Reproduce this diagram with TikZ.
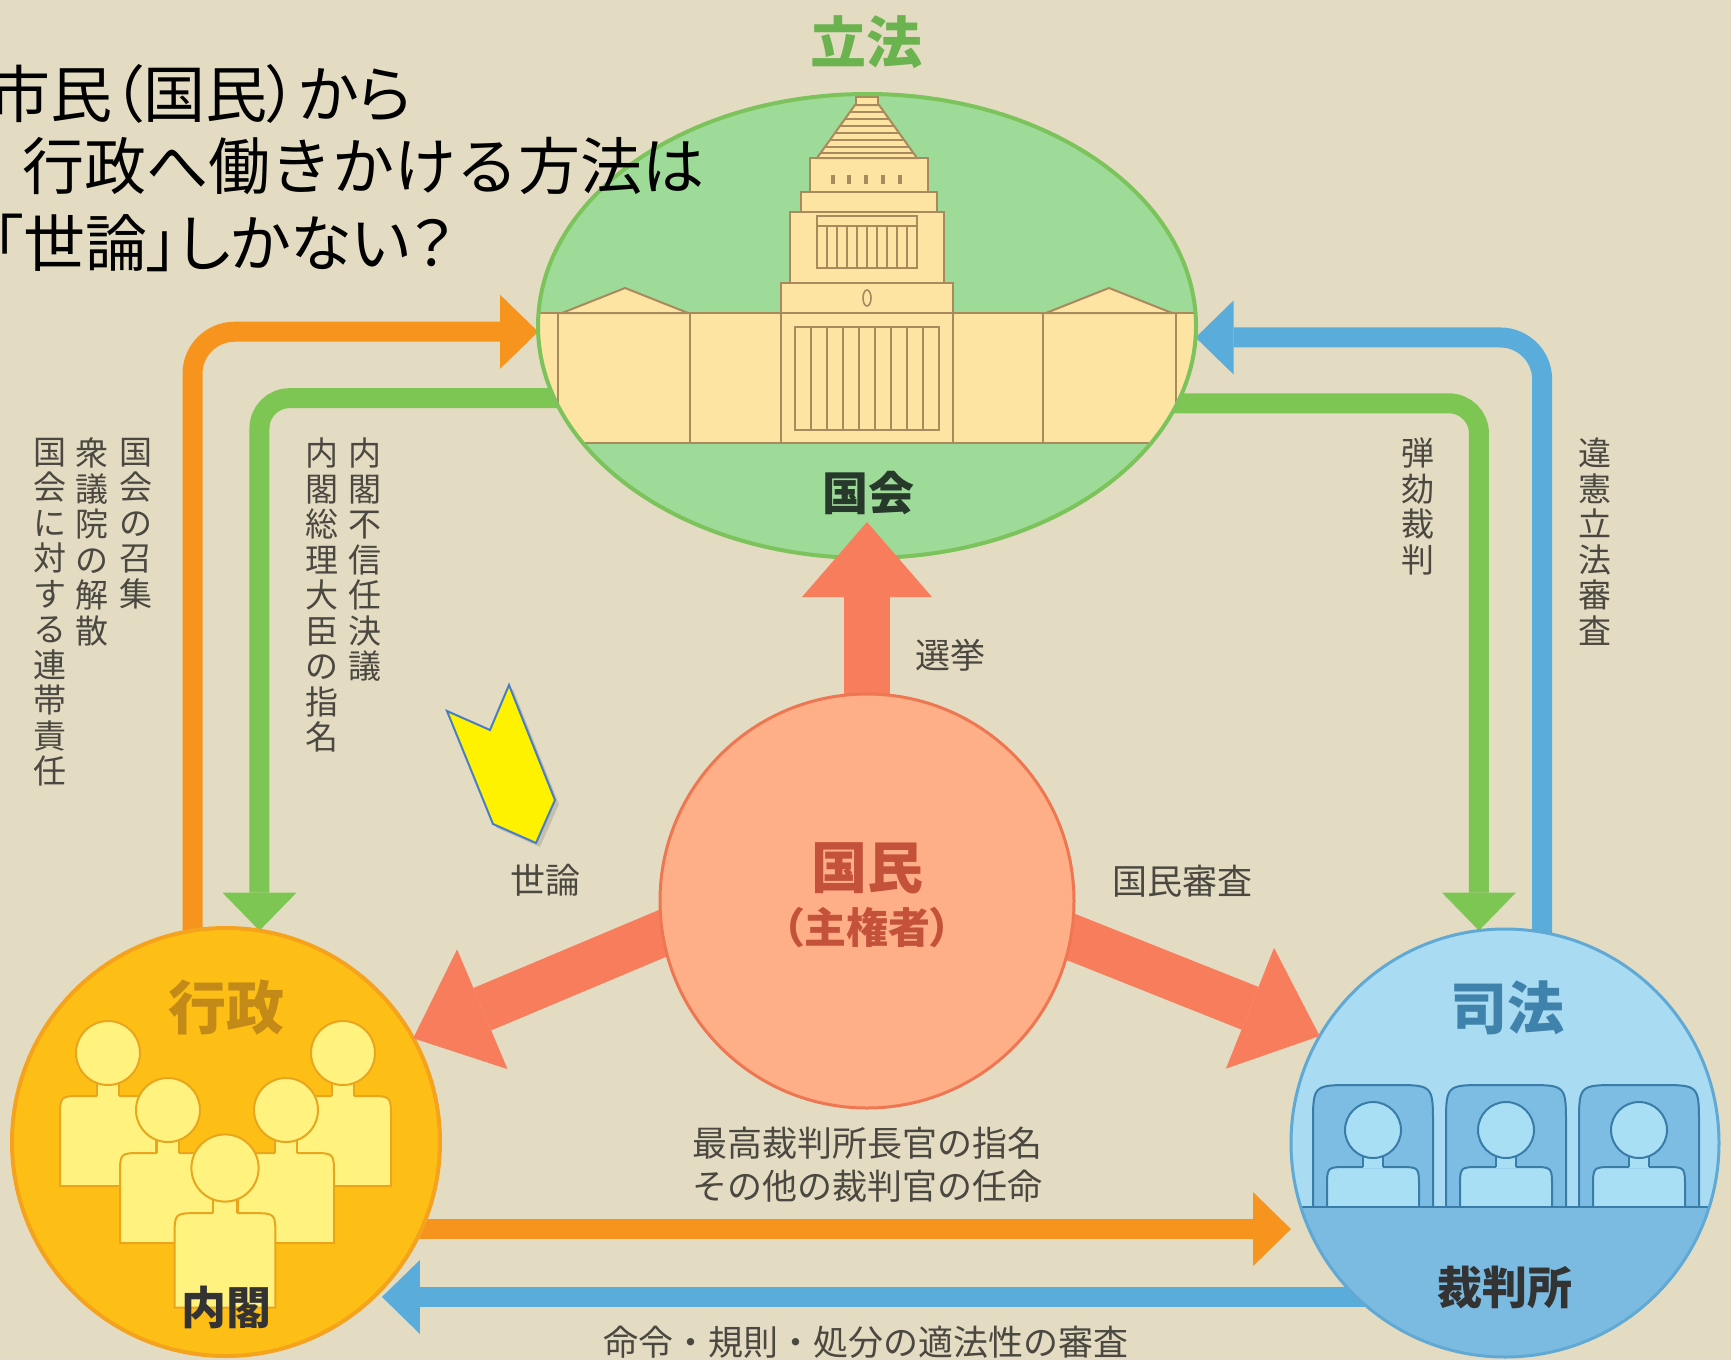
\documentclass[tikz,border=0pt]{standalone}
\usepackage{fontspec}
\usetikzlibrary{arrows.meta,shapes.geometric,calc,shadows}
\newfontfamily\jp{Noto Sans CJK JP}
\newfontfamily\jpp{Noto Sans CJK JP}[RawFeature=+palt]

\definecolor{paper}{HTML}{E3DCC3}
\definecolor{dietfill}{HTML}{9EDA98}
\definecolor{dietline}{HTML}{7CC35C}
\definecolor{hall}{HTML}{FDE4A3}
\definecolor{hallline}{HTML}{A88A5C}
\definecolor{legtext}{HTML}{6BB34E}
\definecolor{dietlabel}{HTML}{26392A}
\definecolor{orangec}{HTML}{F7941E}
\definecolor{greenc}{HTML}{7DC653}
\definecolor{bluec}{HTML}{5AACDB}
\definecolor{salmon}{HTML}{F77D5C}
\definecolor{peoplefill}{HTML}{FFAF87}
\definecolor{peopleline}{HTML}{EE7651}
\definecolor{peopletext}{HTML}{C4523A}
\definecolor{cabfill}{HTML}{FDBF16}
\definecolor{cabline}{HTML}{F5A31C}
\definecolor{cabtext}{HTML}{C48A18}
\definecolor{memfill}{HTML}{FFF27F}
\definecolor{memline}{HTML}{E9A51C}
\definecolor{courtfill}{HTML}{A9DBF3}
\definecolor{courtline}{HTML}{5FA9D4}
\definecolor{courttext}{HTML}{3F82AC}
\definecolor{seatfill}{HTML}{7DBDE4}
\definecolor{judgefill}{HTML}{A8DFF5}
\definecolor{judgeline}{HTML}{3A7CA8}
\definecolor{benchfill}{HTML}{7CBBE1}
\definecolor{labelc}{HTML}{4A4840}
\definecolor{calloutline}{HTML}{4A7EC2}

\tikzset{
  lbl/.style={font=\jp\fontsize{35}{43}\selectfont, text=labelc, align=center},
  vlbl/.style={font=\jp\fontsize{33}{35.5}\selectfont, text=labelc, align=center, anchor=north, text width=36pt},
  headline/.style={font=\jpp\fontsize{62}{62}\selectfont, text=black, anchor=west},
  thinarrow/.style={line width=20pt, rounded corners=42pt, shorten <=-14pt,
    -{Triangle[length=38pt,width=74pt,line width=0pt]}},
  fatarrow/.style={draw=salmon, line width=46pt, shorten <=-30pt,
    -{Triangle[length=75pt,width=130pt,line width=0pt]}},
  hallpart/.style={fill=hall, draw=hallline, line width=2pt},
  hallstroke/.style={draw=hallline, line width=1.6pt},
  member/.pic={
    \filldraw[fill=memfill, draw=memline, line width=2pt]
      (-48,133) -- (-48,65) .. controls (-48,43) .. (-26,43) -- (26,43)
      .. controls (48,43) .. (48,65) -- (48,133) -- cycle;
    \fill[memfill] (-11,24) rectangle (11,45);
    \draw[memline, line width=2pt] (-11,28) -- (-11,43) (11,28) -- (11,43);
    \filldraw[fill=memfill, draw=memline, line width=2pt] (0,0) circle [radius=32pt];
  },
  judge/.pic={
    \filldraw[fill=seatfill, draw=judgeline, line width=2pt]
      (-60,80) -- (-60,-5) .. controls (-60,-45) .. (-20,-45) -- (20,-45)
      .. controls (60,-45) .. (60,-5) -- (60,80);
    \filldraw[fill=judgefill, draw=judgeline, line width=2pt]
      (-46,80) -- (-46,57) .. controls (-46,37) .. (-26,37) -- (26,37)
      .. controls (46,37) .. (46,57) -- (46,80);
    \fill[judgefill] (-10,22) rectangle (10,38);
    \draw[judgeline, line width=2pt] (-10,25) -- (-10,37) (10,25) -- (10,37);
    \filldraw[fill=judgefill, draw=judgeline, line width=2pt] (0,0) circle [radius=28pt];
  },
}

\begin{document}
\begin{tikzpicture}[x=1pt, y=-1pt, every node/.style={inner sep=0pt, outer sep=0pt}]
  \useasboundingbox (0,0) rectangle (1731,1360);
  \clip (0,0) rectangle (1731,1360);
  \fill[paper] (0,0) rectangle (1731,1360);

  % the four bodies (shapes only; they are painted below)
  \node[ellipse, minimum width=658pt, minimum height=464pt] (diet) at (867,326) {};
  \node[circle, minimum size=428pt] (cabinet) at (226,1142) {};
  \node[circle, minimum size=428pt] (court) at (1505,1143) {};
  \node[circle, minimum size=414pt] (people) at (867,901) {};

  % checks and balances between the three powers
  \draw[orangec, thinarrow] (cabinet.99.1) |- (diet.181.9);
  \draw[greenc, thinarrow, rounded corners=30pt] (diet.193.35) -| (cabinet.81.4);
  \draw[bluec, thinarrow] (court.80.6) |- (diet.358.1);
  \draw[greenc, thinarrow, rounded corners=30pt] (diet.346.65) -| (court.97);
  \draw[orangec, thinarrow, shorten >=17pt] (cabinet.336) -- (cabinet.336 -| court.203.7);
  \draw[bluec, thinarrow, shorten >=10pt] (court.226) -- (court.226 -| cabinet.313.6);

  % ---- Diet ----
  \fill[dietfill] (diet.center) ellipse [x radius=329pt, y radius=232pt];
  \begin{scope}
    \clip (diet.center) ellipse [x radius=328pt, y radius=231pt];
    \fill[hall] (520,313) rectangle (1215,443);
    \draw[hallline, line width=2pt] (520,313) -- (1215,313) (520,443) -- (1215,443);
    \draw[hallline, line width=2pt] (558,313) -- (558,443) (690,313) -- (690,443)
      (1043,313) -- (1043,443) (1176,313) -- (1176,443);
    \filldraw[hallpart] (562,313) -- (625,288) -- (688,313) -- cycle;
    \filldraw[hallpart] (1046,313) -- (1109,288) -- (1172,313) -- cycle;
    % central tower
    \filldraw[hallpart] (781,283) rectangle (953,443);
    \draw[hallline, line width=2pt] (781,313) -- (953,313);
    \draw[hallstroke] (867,298) ellipse [x radius=4pt, y radius=8pt];
    \filldraw[hallpart] (795,327) rectangle (939,430);
    \foreach \k in {1,...,8} \draw[hallstroke] ({795+16*\k},327) -- ({795+16*\k},430);
    \filldraw[hallpart] (790,212) rectangle (944,283);
    \filldraw[hallpart] (817,216) rectangle (917,268);
    \draw[hallstroke] (817,226) -- (917,226);
    \foreach \k in {1,...,9} \draw[hallline, line width=1.4pt] ({817+10*\k},226) -- ({817+10*\k},268);
    \filldraw[hallpart] (801,192) rectangle (937,212);
    \filldraw[hallpart] (810,158) rectangle (928,192);
    \foreach \xx in {833,849,866,883,900} \fill[hallline] ({\xx-2},175) rectangle ({\xx+2},184);
    \filldraw[hallpart] (817,158) -- (855,105) -- (879,105) -- (917,158) -- cycle;
    \foreach \yy in {112,119,126,133,140,147,153}
      \draw[hallline, line width=1.4pt] ({855-(\yy-105)*0.717},\yy) -- ({879+(\yy-105)*0.717},\yy);
    \filldraw[hallpart] (856,97) rectangle (878,105);
  \end{scope}
  \draw[dietline, line width=4pt] (diet.center) ellipse [x radius=329pt, y radius=232pt];
  \node[font=\jp\bfseries\fontsize{46}{46}\selectfont, text=dietlabel] (dietname) at (868,493) {国会};
  \node[font=\jp\bfseries\fontsize{56}{56}\selectfont, text=legtext] (legis) at (866,42) {立法};

  % ---- Cabinet ----
  \fill[cabfill] (cabinet.center) circle [radius=214pt];
  \begin{scope}
    \clip (cabinet.center) circle [radius=213pt];
    \pic at (108,1053) {member};
    \pic at (343,1053) {member};
    \pic at (168,1110) {member};
    \pic at (286,1110) {member};
    \pic[scale=1.05] at (225,1168) {member};
  \end{scope}
  \draw[cabline, line width=4pt] (cabinet.center) circle [radius=214pt];
  \node[font=\jp\bfseries\fontsize{58}{58}\selectfont, text=cabtext] (exec) at (226,1008) {行政};
  \node[font=\jp\bfseries\fontsize{45}{45}\selectfont, text=black!80] (cabname) at (226,1307) {内閣};

  % ---- Courts ----
  \fill[courtfill] (court.center) circle [radius=214pt];
  \begin{scope}
    \clip (court.center) circle [radius=213pt];
    \pic at (1373,1130) {judge};
    \pic at (1506,1130) {judge};
    \pic at (1639,1130) {judge};
    \filldraw[fill=benchfill, draw=judgeline, line width=2pt] (1280,1207) rectangle (1740,1380);
  \end{scope}
  \draw[courtline, line width=3pt] (court.center) circle [radius=214pt];
  \node[font=\jp\bfseries\fontsize{57}{57}\selectfont, text=courttext] (judic) at (1507,1008) {司法};
  \node[font=\jp\bfseries\fontsize{45}{45}\selectfont, text=black!80] (courtname) at (1505,1287) {裁判所};

  % ---- sovereign people ----
  \draw[fatarrow] (people.north) -- ($(diet.south)+(0,-36)$);
  \draw[fatarrow] (people.189.2) -- (cabinet.29.05);
  \draw[fatarrow] (people.350.8) -- (court.150.95);
  \filldraw[fill=peoplefill, draw=peopleline, line width=3pt] (people.center) circle [radius=207pt];
  \node[font=\jp\bfseries\fontsize{56}{56}\selectfont, text=peopletext] (ppl) at (867,868) {国民};
  \node[font=\jpp\bfseries\fontsize{42}{42}\selectfont, text=peopletext] (sov) at (867,928) {（主権者）};

  % ---- labels ----
  \node[lbl] (vote) at (950,655) {選挙};
  \node[lbl] (opinion) at (545,880) {世論};
  \node[lbl] (review) at (1182,881) {国民審査};
  \node[lbl] (appoint) at (867,1165) {最高裁判所長官の指名\\その他の裁判官の任命};
  \node[lbl] (legality) at (866,1342) {命令・規則・処分の適法性の審査};

  \node[vlbl] (conv) at (136,438) {国\\会\\の\\召\\集};
  \node[vlbl] (dissol) at (92,438) {衆\\議\\院\\の\\解\\散};
  \node[vlbl] (resp) at (50,438) {国\\会\\に\\対\\す\\る\\連\\帯\\責\\任};
  \node[vlbl] (noconf) at (365,438) {内\\閣\\不\\信\\任\\決\\議};
  \node[vlbl] (pmnom) at (322,438) {内\\閣\\総\\理\\大\\臣\\の\\指\\名};
  \node[vlbl] (impeach) at (1418,438) {弾\\劾\\裁\\判};
  \node[vlbl] (constrev) at (1595,438) {違\\憲\\立\\法\\審\\査};

  % ---- callout pointing at public opinion ----
  \filldraw[fill=yellow, draw=calloutline, line width=2pt,
    drop shadow={shadow xshift=4pt, shadow yshift=-4pt, opacity=0.3}]
    (447,711) -- (490,730) -- (509,685) -- (555,800) -- (536,843) -- (493,824) -- cycle;

  % ---- question ----
  \node[headline] (q1) at (-12,94) {市民（国民）から};
  \node[headline, font=\jp\fontsize{62}{62}\selectfont] (q2) at (22,166) {行政へ働きかける方法は};
  \node[headline] (q3) at (-8,243) {「世論」しかない？};
\end{tikzpicture}
\end{document}
